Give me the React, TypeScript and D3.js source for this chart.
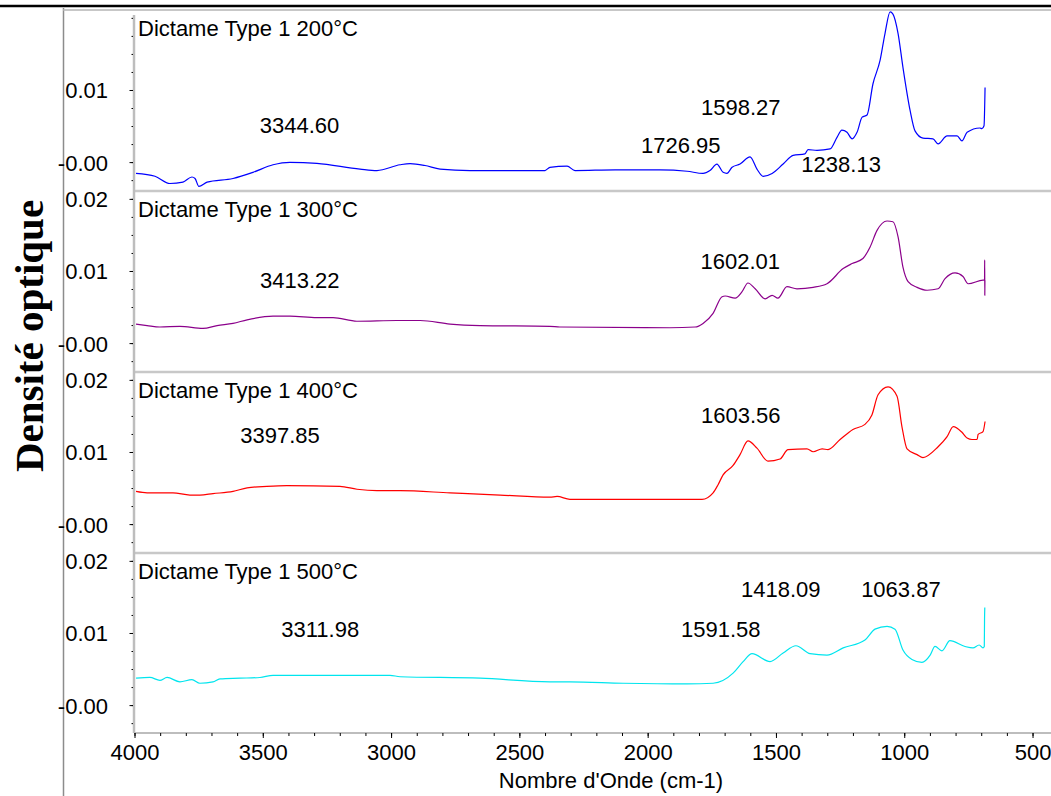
import React from "react";
import * as d3 from "d3";

// ---------- DATA ----------
const spectrum200: [number, number][] = [
  [3996,-0.0015],[3922,-0.0019],[3864,-0.0029],[3813,-0.0027],[3778,-0.002],[3766,-0.0022],[3751,-0.0033],[3719,-0.0027],[3618,-0.0022],[3540,-0.00135],[3462,-0.0003],[3396,0.00004],[3291,-0.0001],[3123,-0.0009],[3057,-0.0011],[2967,-0.0003],[2928,-0.00014],[2870,-0.0004],[2811,-0.0009],[2694,-0.0011],[2402,-0.0011],[2383,-0.00065],[2316,-0.0005],[2285,-0.0011],[2129,-0.001],[1954,-0.001],[1848,-0.0012],[1786,-0.0015],[1759,-0.0011],[1732,-0.0002],[1708,-0.00135],[1693,-0.0015],[1673,-0.00065],[1642,-0.0002],[1603,0.0008],[1576,-0.0009],[1552,-0.0019],[1517,-0.0015],[1474,-0.0002],[1435,0.001],[1389,0.0012],[1377,0.0018],[1342,0.0017],[1291,0.0019],[1264,0.0035],[1245,0.0045],[1225,0.0042],[1205,0.0033],[1186,0.0042],[1166,0.0063],[1147,0.0066],[1124,0.0109],[1096,0.0142],[1077,0.0179],[1057,0.0209],[1046,0.0206],[1026,0.0179],[1007,0.0132],[979,0.0072],[960,0.0044],[929,0.0034],[890,0.0033],[870,0.0026],[835,0.0037],[796,0.0037],[777,0.003],[757,0.0042],[707,0.0048],[699,0.0047],[691,0.0051],[687,0.0104]
];
const spectrum300: [number, number][] = [
  [3996,0.0027],[3953,0.0025],[3903,0.0023],[3825,0.0024],[3735,0.0021],[3680,0.0025],[3618,0.0028],[3563,0.0033],[3462,0.0038],[3396,0.0038],[3291,0.0036],[3228,0.0036],[3135,0.0031],[2979,0.0032],[2889,0.0032],[2772,0.0027],[2655,0.0025],[2383,0.0024],[2344,0.0023],[1915,0.0022],[1817,0.0023],[1786,0.0028],[1747,0.0042],[1712,0.0065],[1700,0.0066],[1661,0.0063],[1634,0.0072],[1611,0.0084],[1583,0.0076],[1544,0.0062],[1517,0.0067],[1494,0.0063],[1459,0.0079],[1420,0.0076],[1357,0.0078],[1303,0.0083],[1240,0.0104],[1205,0.0111],[1163,0.0118],[1135,0.0134],[1108,0.0157],[1069,0.017],[1046,0.0169],[1026,0.0148],[1007,0.0106],[987,0.0086],[952,0.0078],[913,0.0074],[870,0.0076],[843,0.009],[804,0.0098],[773,0.0093],[753,0.0083],[695,0.0088],[689,0.0088],[688.5,0.0116],[688,0.0067],[687.5,0.0088]
];
const spectrum400: [number, number][] = [
  [3996,0.0046],[3953,0.0044],[3852,0.0044],[3786,0.0041],[3747,0.0041],[3696,0.0043],[3618,0.0046],[3563,0.0051],[3486,0.0053],[3408,0.0054],[3201,0.0053],[3135,0.0049],[3057,0.0047],[2967,0.0047],[2772,0.0044],[2577,0.0041],[2383,0.0038],[2355,0.0039],[2305,0.0035],[1790,0.0035],[1747,0.0044],[1728,0.0055],[1708,0.0069],[1669,0.0082],[1642,0.0097],[1611,0.0116],[1576,0.0106],[1533,0.0088],[1486,0.0091],[1455,0.0104],[1381,0.0105],[1357,0.0101],[1322,0.0105],[1299,0.0104],[1252,0.0118],[1202,0.0132],[1155,0.0139],[1128,0.0152],[1104,0.018],[1065,0.0191],[1030,0.0178],[1011,0.0136],[991,0.0105],[952,0.0097],[929,0.0093],[870,0.0108],[835,0.0122],[811,0.0136],[777,0.0128],[757,0.012],[738,0.0118],[718,0.0118],[714,0.0125],[695,0.0129],[687,0.0143]
];
const spectrum500: [number, number][] = [
  [3996,0.0038],[3942,0.0039],[3903,0.0035],[3875,0.0039],[3825,0.0033],[3778,0.0036],[3747,0.0031],[3696,0.0033],[3669,0.0037],[3591,0.0038],[3513,0.0039],[3462,0.0042],[3228,0.0042],[3006,0.0042],[2967,0.004],[2655,0.0038],[2383,0.0033],[2305,0.0033],[2098,0.0031],[1848,0.003],[1747,0.0031],[1669,0.0045],[1630,0.0061],[1595,0.0072],[1525,0.0061],[1474,0.0073],[1424,0.0083],[1369,0.0072],[1303,0.007],[1240,0.008],[1155,0.0091],[1116,0.0106],[1069,0.011],[1038,0.0106],[1007,0.0077],[972,0.0064],[933,0.006],[901,0.007],[882,0.0082],[855,0.0076],[824,0.009],[765,0.0082],[734,0.008],[710,0.0084],[695,0.008],[690,0.0082],[689,0.012],[688,0.0136]
];

const panelTitles = ["Dictame Type 1 200°C", "Dictame Type 1 300°C", "Dictame Type 1 400°C", "Dictame Type 1 500°C"];
const panelColors = ["#0000ff", "#8b008b", "#ff0000", "#00e5ee"];
const panelSpectra = [spectrum200, spectrum300, spectrum400, spectrum500];

// annotations: [panel index, label, wavenumber (centre), absorbance (baseline)]
const annotations: [number, string, number, number][] = [
  [0, "3344.60", 3359, 0.0041],
  [0, "1598.27", 1639, 0.0066],
  [0, "1726.95", 1873, 0.00133],
  [0, "1238.13", 1248, -0.00137],
  [1, "3413.22", 3358, 0.00771],
  [1, "1602.01", 1641, 0.01035],
  [2, "3397.85", 3435, 0.01132],
  [2, "1603.56", 1639, 0.01409],
  [3, "3311.98", 3278, 0.00958],
  [3, "1418.09", 1483, 0.01506],
  [3, "1063.87", 1015, 0.01506],
  [3, "1591.58", 1717, 0.00951],
];

const xMajorTicks = [4000, 3500, 3000, 2500, 2000, 1500, 1000, 500];
const xMinorTicks = d3.range(4000, 499, -100);
const yLabelledTicksFirst = [0, 0.01];
const yLabelledTicksOther = [0, 0.01, 0.02];
const yMinorTicks = [-0.0025, 0, 0.0025, 0.005, 0.0075, 0.01, 0.0125, 0.015, 0.0175, 0.02];
const yTickFormat = (v: number) => (v === 0 ? "-0.00" : v.toFixed(2));

const xTitle = "Nombre d'Onde (cm-1)";
const yTitle = "Densité optique";

// ---------- LAYOUT ----------
const W = 1051, H = 796;
const plotLeft = 135, plotRight = 1051;
const panelTop0 = 9, panelH = 181;
const sans = "'Liberation Sans', Arial, sans-serif";
const FS = 22;

export default function App() {
  const x = d3.scaleLinear().domain([4000, 430]).range([plotLeft, plotRight]);
  const axisY = panelTop0 + 4 * panelH;

  return (
    <svg width={W} height={H} style={{ position: "absolute", left: 0, top: 0, background: "#fff" }}>
      <rect x={0} y={0} width={W} height={H} fill="#fff" />
      {/* outer frame lines */}
      <line x1={0} x2={W} y1={6} y2={6} stroke="#000" strokeWidth={2.5} />
      <line x1={63.5} x2={63.5} y1={8} y2={H} stroke="#8c8c8c" strokeWidth={1.5} />
      <line x1={63} x2={W} y1={10} y2={10} stroke="#b4b4b4" strokeWidth={1.5} />

      {panelSpectra.map((data, i) => {
        const top = panelTop0 + i * panelH;
        const y = d3.scaleLinear().domain([-0.0038, 0.0213]).range([top + panelH, top]);
        const line = d3
          .line<[number, number]>()
          .x((d) => x(d[0]))
          .y((d) => y(d[1]))
          .curve(d3.curveMonotoneX);
        const labelled = i === 0 ? yLabelledTicksFirst : yLabelledTicksOther;
        const borderTop = i === 0 ? top + 6 : top;
        return (
          <g key={i}>
            {i > 0 && <line x1={plotLeft - 1} x2={W} y1={top + 1} y2={top + 1} stroke="#c8c8c8" strokeWidth={2.5} />}
            <line x1={134} x2={134} y1={borderTop} y2={top + panelH} stroke="#bdbdbd" strokeWidth={2.5} />
            {yMinorTicks.map((t) => (
              <line key={"m" + t} x1={131.5} x2={133} y1={y(t)} y2={y(t)} stroke="#000" strokeWidth={1} />
            ))}
            {labelled.map((t) => (
              <g key={"l" + t}>
                <line x1={129.5} x2={133} y1={y(t)} y2={y(t)} stroke="#000" strokeWidth={1} />
                <text x={108} y={y(t)} dy="0.36em" textAnchor="end" fontFamily={sans} fontSize={FS} fill="#000">
                  {yTickFormat(t)}
                </text>
              </g>
            ))}
            <path d={line(data) || ""} fill="none" stroke={panelColors[i]} strokeWidth={1.2} strokeLinejoin="round" />
            <text x={138} y={top + 26.5} fontFamily={sans} fontSize={FS} fill="#000">
              {panelTitles[i]}
            </text>
            {annotations
              .filter((a) => a[0] === i)
              .map((a) => (
                <text key={a[1]} x={x(a[2])} y={y(a[3])} textAnchor="middle" fontFamily={sans} fontSize={FS} fill="#000">
                  {a[1]}
                </text>
              ))}
          </g>
        );
      })}

      {/* x axis */}
      <line x1={plotLeft - 1} x2={W} y1={axisY} y2={axisY} stroke="#bdbdbd" strokeWidth={2} />
      {xMinorTicks.map((t) => (
        <line key={"xm" + t} x1={x(t)} x2={x(t)} y1={axisY} y2={axisY + 3} stroke="#000" strokeWidth={1} />
      ))}
      {xMajorTicks.map((t) => (
        <g key={"xM" + t}>
          <line x1={x(t)} x2={x(t)} y1={axisY} y2={axisY + 5} stroke="#000" strokeWidth={1} />
          <text x={x(t)} y={760} textAnchor="middle" fontFamily={sans} fontSize={FS} fill="#000">
            {t}
          </text>
        </g>
      ))}
      <text x={611} y={788} textAnchor="middle" fontFamily={sans} fontSize={FS} fill="#000">
        {xTitle}
      </text>
      <text
        transform="translate(43,336) rotate(-90)"
        textAnchor="middle"
        fontFamily="'Liberation Serif', 'Times New Roman', serif"
        fontWeight="bold"
        fontSize={41}
        fill="#000"
      >
        {yTitle}
      </text>
    </svg>
  );
}
